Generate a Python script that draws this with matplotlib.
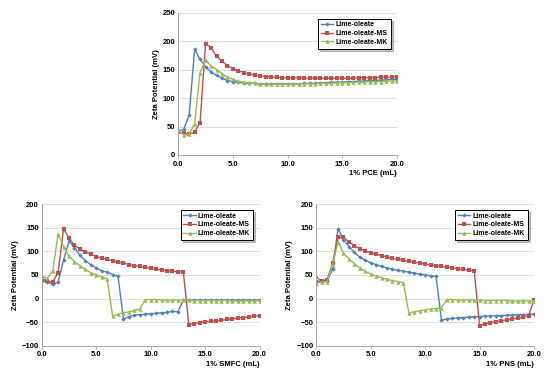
import numpy as np
import matplotlib
matplotlib.use("Agg")
import matplotlib.pyplot as plt

plt.rcParams['font.family'] = ['Liberation Sans', 'DejaVu Sans']

x_ml = np.arange(0, 20.01, 0.5)
series_names = ["Lime-oleate", "Lime-oleate-MS", "Lime-oleate-MK"]

# 1% PCE
pce_lo = [42, 45, 70, 186, 168, 155, 146, 140, 135, 131, 129, 128, 127, 126, 126, 125,
          125, 125, 125, 125, 125, 125, 125, 126, 126, 126, 127, 127, 128, 128, 128, 129,
          129, 130, 130, 131, 131, 132, 132, 133, 133]
pce_ms = [40, 38, 37, 40, 57, 196, 189, 174, 165, 157, 152, 148, 145, 142, 141, 139,
          138, 137, 137, 136, 136, 136, 136, 135, 135, 135, 135, 135, 135, 135, 135, 135,
          135, 136, 136, 136, 136, 137, 137, 137, 138]
pce_mk = [45, 35, 37, 55, 145, 167, 157, 150, 143, 137, 133, 130, 128, 127, 126, 125,
          124, 124, 124, 124, 124, 124, 125, 125, 125, 125, 126, 126, 126, 127, 127, 127,
          128, 128, 128, 129, 129, 129, 130, 130, 130]

# 1% SMFC
smfc_lo = [38, 35, 30, 35, 82, 122, 108, 92, 80, 72, 65, 59, 56, 51, 47, -43,
           -38, -35, -34, -33, -32, -31, -30, -29, -27, -28, -3, -3, -3, -3, -3, -3,
           -3, -3, -3, -3, -3, -3, -3, -3, -3]
smfc_ms = [42, 37, 35, 55, 148, 128, 113, 105, 99, 94, 89, 86, 83, 80, 77, 75,
           72, 70, 68, 66, 64, 62, 61, 59, 58, 57, 56, -55, -53, -51, -49, -48,
           -47, -46, -44, -43, -41, -40, -39, -37, -36]
smfc_mk = [48, 43, 58, 137, 110, 90, 78, 70, 62, 55, 50, 46, 42, -37, -33, -30,
           -28, -25, -22, -2, -2, -2, -3, -3, -3, -3, -3, -3, -4, -4, -4, -4,
           -4, -4, -4, -5, -5, -5, -5, -5, -5]

# 1% PNS
pns_lo = [46, 36, 38, 62, 148, 125, 110, 98, 88, 81, 76, 72, 68, 65, 62, 60,
          58, 56, 54, 52, 50, 48, 47, -46, -43, -42, -41, -40, -39, -38, -38, -37,
          -37, -36, -36, -35, -35, -34, -34, -33, -33]
pns_ms = [36, 37, 40, 75, 130, 130, 120, 112, 106, 101, 97, 94, 91, 88, 85, 83,
          81, 79, 77, 75, 73, 71, 70, 68, 67, 65, 63, 62, 60, 59, -57, -53,
          -51, -49, -47, -45, -43, -41, -39, -36, -3]
pns_mk = [33, 35, 36, 72, 120, 97, 84, 74, 65, 58, 52, 48, 44, 41, 38, 36,
          34, -30, -28, -26, -24, -22, -21, -19, -2, -2, -3, -3, -3, -3, -3, -4,
          -4, -4, -4, -4, -5, -5, -5, -5, -5]

colors = ["#4F81BD", "#C0504D", "#9BBB59"]
markers = ["D", "s", "^"]
msizes = [2.2, 3.2, 3.2]

fig = plt.figure(figsize=(5.5, 3.78), dpi=100)

panels = [
    ([0.324, 0.590, 0.398, 0.376], [pce_lo, pce_ms, pce_mk], "1% PCE (mL)", (0, 250)),
    ([0.076, 0.085, 0.396, 0.375], [smfc_lo, smfc_ms, smfc_mk], "1% SMFC (mL)", (-100, 200)),
    ([0.575, 0.085, 0.396, 0.375], [pns_lo, pns_ms, pns_mk], "1% PNS (mL)", (-100, 200)),
]

for rect, data, xlab, ylim in panels:
    ax = fig.add_axes(rect)
    for vals, name, c, m, ms in zip(data, series_names, colors, markers, msizes):
        ax.plot(x_ml, vals, color=c, marker=m, markersize=ms, linewidth=1.0,
                label=name, markeredgewidth=0)
    ax.set_xlim(0, 20)
    ax.set_ylim(*ylim)
    ax.set_xticks(np.arange(0, 20.1, 5))
    ax.set_xticklabels(["%.1f" % v for v in np.arange(0, 20.1, 5)])
    ax.set_yticks(np.arange(ylim[0], ylim[1] + 1, 50))
    ax.grid(axis='y', color='#D9D9D9', linewidth=0.6)
    ax.set_axisbelow(True)
    for s in ['top', 'right']:
        ax.spines[s].set_visible(False)
    for s in ['left', 'bottom']:
        ax.spines[s].set_color('#A6A6A6')
        ax.spines[s].set_linewidth(0.7)
    ax.tick_params(axis='both', labelsize=5.5, length=2, width=0.6, color='#A6A6A6', pad=2)
    ax.tick_params(axis='y', length=0)
    for lbl in ax.get_xticklabels() + ax.get_yticklabels():
        lbl.set_fontweight('bold')
    ax.set_xlabel(xlab, fontsize=5.5, fontweight='bold', loc='right', labelpad=2)
    ax.set_ylabel("Zeta Potential (mV)", fontsize=5.5, fontweight='bold', labelpad=2)
    leg = ax.legend(loc='upper right', bbox_to_anchor=(0.97, 0.96), fontsize=5,
                    frameon=True, fancybox=False, shadow={'ox': 1.5, 'oy': -1.5, 'color': '#808080'},
                    borderpad=0.4, handlelength=1.8, handletextpad=0.3,
                    labelspacing=0.25, borderaxespad=0)
    leg.get_frame().set_edgecolor('black')
    leg.get_frame().set_linewidth(0.7)
    for t in leg.get_texts():
        t.set_fontweight('bold')

fig.savefig("out.png", dpi=100)
